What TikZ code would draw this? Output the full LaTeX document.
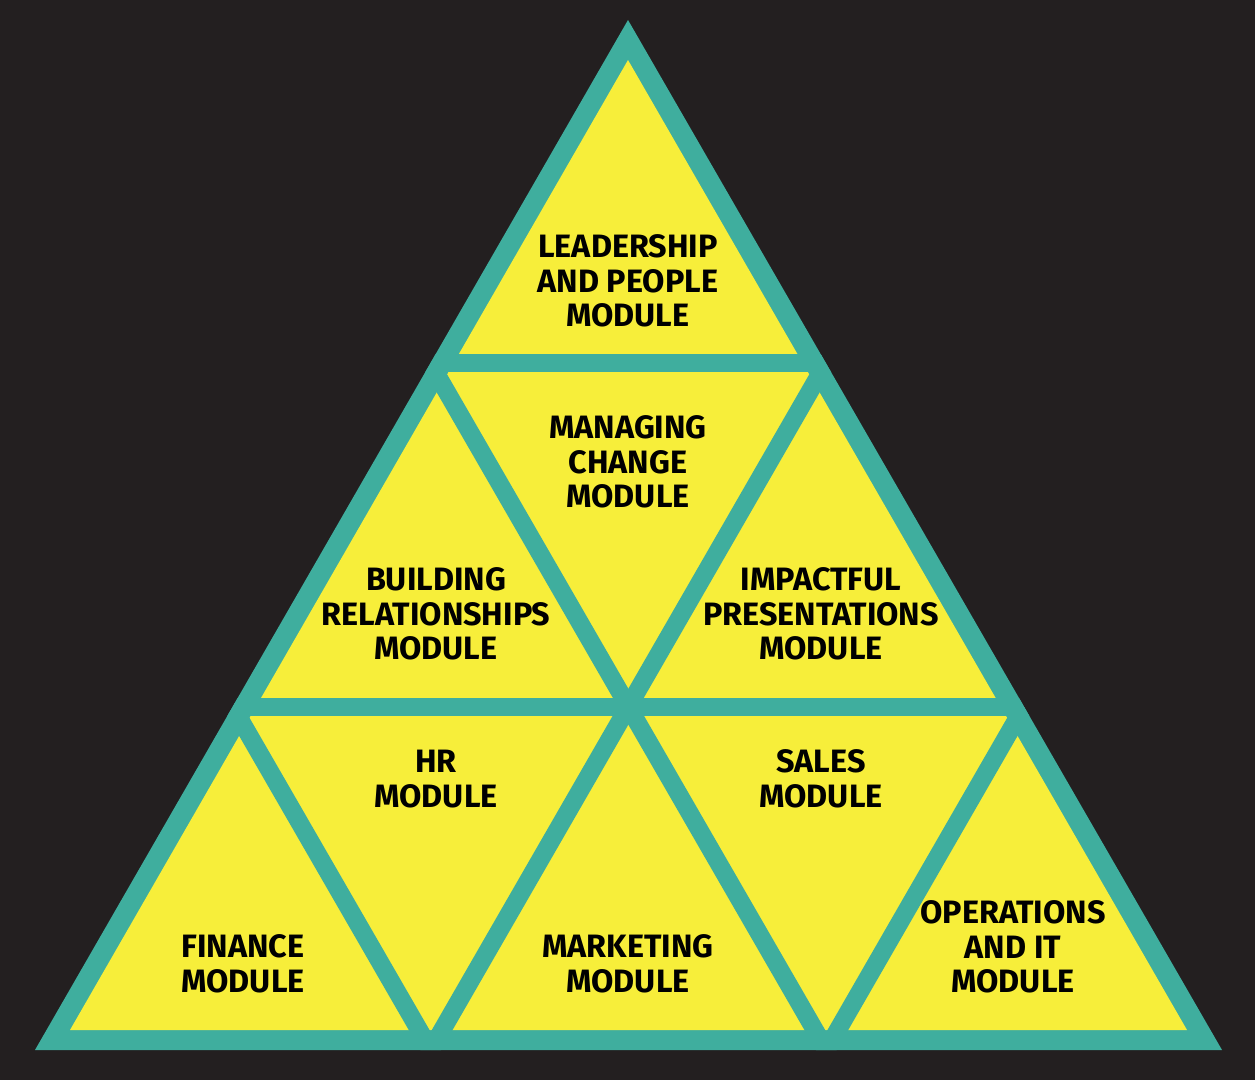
\documentclass[tikz,border=0pt]{standalone}
\usepackage{fontspec}
\setmainfont{Fira Sans}
\usetikzlibrary{calc}
\definecolor{bgdark}{HTML}{231F20}
\definecolor{tealline}{HTML}{3FAE9E}
\definecolor{yellowfill}{HTML}{F7EE3A}
\tikzset{
  module/.style={align=center,font=\fontsize{9.2}{9.8}\selectfont\bfseries,text=black,inner sep=0pt},
  gridline/.style={draw=tealline,line width=0.18cm}
}
\begin{document}
\begin{tikzpicture}[x=0.01cm,y=-0.01cm]
      \fill[bgdark] (0,0) rectangle (1255,1080);
      \coordinate (A) at (628,20);
      \coordinate (B) at (35,1050);
      \coordinate (C) at (1222,1050);
      \fill[tealline] (A) -- (B) -- (C) -- cycle;
      \fill[yellowfill] (628,60) -- (70,1030) -- (1187,1030) -- cycle;
      % grid points on the edges
      \coordinate (L1) at ($(A)!1/3!(B)$);
      \coordinate (L2) at ($(A)!2/3!(B)$);
      \coordinate (R1) at ($(A)!1/3!(C)$);
      \coordinate (R2) at ($(A)!2/3!(C)$);
      \coordinate (D1) at ($(B)!1/3!(C)$);
      \coordinate (D2) at ($(B)!2/3!(C)$);
      \begin{scope}
        \clip (A) -- (B) -- (C) -- cycle;
        \draw[gridline] (L1) -- (R1);
        \draw[gridline] (L2) -- (R2);
        \draw[gridline] (R1) -- (D1);
        \draw[gridline] (R2) -- (D2);
        \draw[gridline] (L1) -- (D2);
        \draw[gridline] (L2) -- (D1);
      \end{scope}
      \node[module] (lead) at (628,281) {LEADERSHIP\\AND PEOPLE\\MODULE};
      \node[module] (change) at (628,462) {MANAGING\\CHANGE\\MODULE};
      \node[module] (build) at (436,614) {BUILDING\\RELATIONSHIPS\\MODULE};
      \node[module] (impact) at (821,614) {IMPACTFUL\\PRESENTATIONS\\MODULE};
      \node[module] (hr) at (436,779) {HR\\MODULE};
      \node[module] (sales) at (821,779) {SALES\\MODULE};
      \node[module] (finance) at (243,964) {FINANCE\\MODULE};
      \node[module] (market) at (628,964) {MARKETING\\MODULE};
      \node[module] (ops) at (1013,947) {OPERATIONS\\AND IT\\MODULE};
\end{tikzpicture}
\end{document}
